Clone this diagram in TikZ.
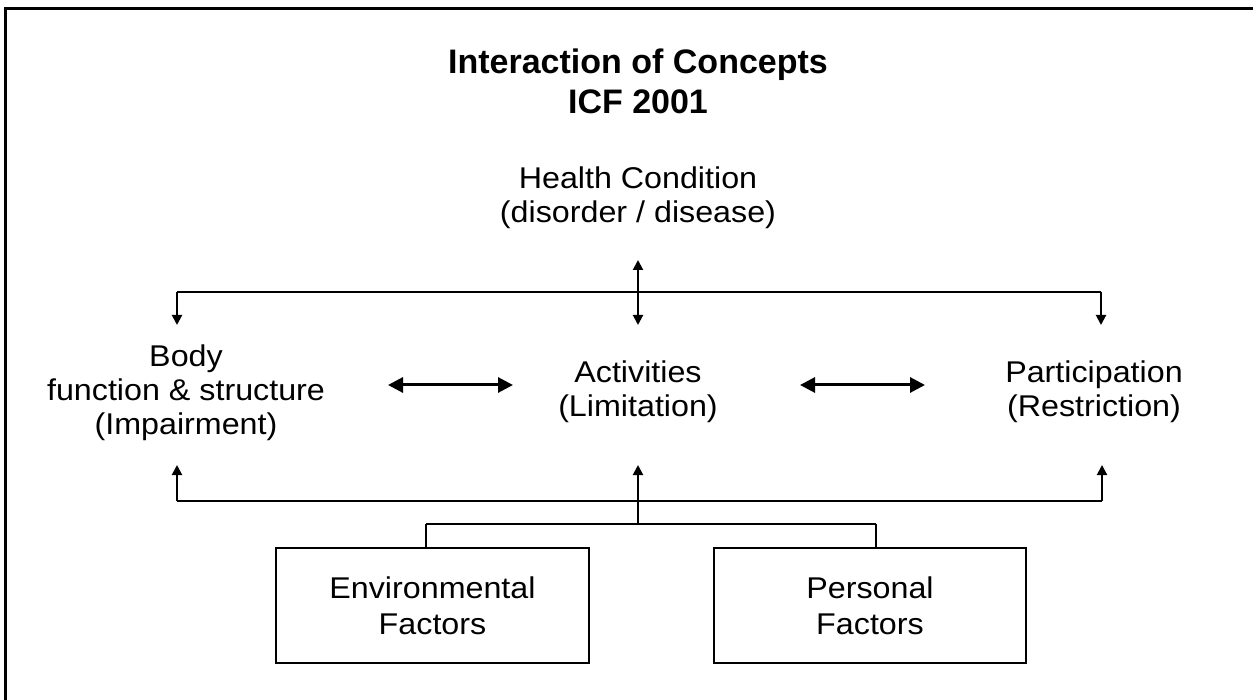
\documentclass[tikz,border=0pt]{standalone}
\usepackage{fontspec}
\setmainfont[FakeStretch=1.075]{Liberation Sans}
\newfontfamily\titlefont{Liberation Sans}
\usetikzlibrary{arrows.meta}
\begin{document}
\begin{tikzpicture}[x=1pt,y=-1pt,
  lbl/.style={align=center, font=\fontsize{30}{34.5}\selectfont, inner sep=0pt, anchor=base},
  ttl/.style={align=center, font=\titlefont\bfseries\fontsize{34}{40}\selectfont, inner sep=0pt, anchor=base},
  conn/.style={line width=2pt},
  tipend/.style={-{Triangle[length=10pt,width=10pt]}},
  tipboth/.style={{Triangle[length=10pt,width=10pt]}-{Triangle[length=10pt,width=10pt]}},
  dbl/.style={line width=3pt,{Triangle[length=15pt,width=15pt]}-{Triangle[length=15pt,width=15pt]}},
  factorbox/.style={draw, line width=2pt, minimum height=115pt, inner sep=0pt, align=center,
    font=\fontsize{30}{36}\selectfont}]
\useasboundingbox (0,0) rectangle (1253,700);
\fill[white] (0,0) rectangle (1253,700);
\draw[line width=3pt] (5,700) -- (5,9) -- (1253,9);

% texts (anchor = baseline of last line)
\node[ttl] (title) at (638,114) {Interaction of Concepts\\ICF 2001};
\node[lbl] (health) at (638,223) {Health Condition\\(disorder / disease)};
\node[lbl] (body) at (186,435) {Body\\function \& structure\\(Impairment)};
\node[lbl] (act) at (638,417) {Activities\\(Limitation)};
\node[lbl] (part) at (1094,417) {Participation\\(Restriction)};
\node[factorbox, minimum width=313pt] (env) at (432.5,605.5) {Environmental\\Factors};
\node[factorbox, minimum width=312pt] (pers) at (870,605.5) {Personal\\Factors};

% coordinates
\coordinate (hUp) at (638,260);
\coordinate (hDown) at (638,325);
\coordinate (tL) at (177,292);
\coordinate (tR) at (1101,292);
\coordinate (tLd) at (177,325);
\coordinate (tRd) at (1101,325);
\coordinate (bL) at (177,501);
\coordinate (bM) at (638,501);
\coordinate (bR) at (1102,501);
\coordinate (bLu) at (177,465);
\coordinate (bMu) at (638,465);
\coordinate (bRu) at (1102,465);
\coordinate (fM) at (638,524);
\coordinate (fL) at (426,524);
\coordinate (fR) at (876,524);
\coordinate (a1) at (388,385);
\coordinate (a2) at (513,385);
\coordinate (a3) at (800,385);
\coordinate (a4) at (925,385);

% top connectors
\draw[conn,tipboth] (hUp) -- (hDown);
\draw[conn] (tL) -- (tR);
\draw[conn,tipend] (tL) -- (tLd);
\draw[conn,tipend] (tR) -- (tRd);

% middle double arrows
\draw[dbl] (a1) -- (a2);
\draw[dbl] (a3) -- (a4);

% bottom connectors
\draw[conn] (bL) -- (bR);
\draw[conn,tipend] (bL) -- (bLu);
\draw[conn,tipend] (bM) -- (bMu);
\draw[conn,tipend] (bR) -- (bRu);
\draw[conn] (bM) -- (fM);
\draw[conn] (fL) -- (fR);
\draw[conn] (fL) -- (fL |- env.north);
\draw[conn] (fR) -- (fR |- pers.north);
\end{tikzpicture}
\end{document}
